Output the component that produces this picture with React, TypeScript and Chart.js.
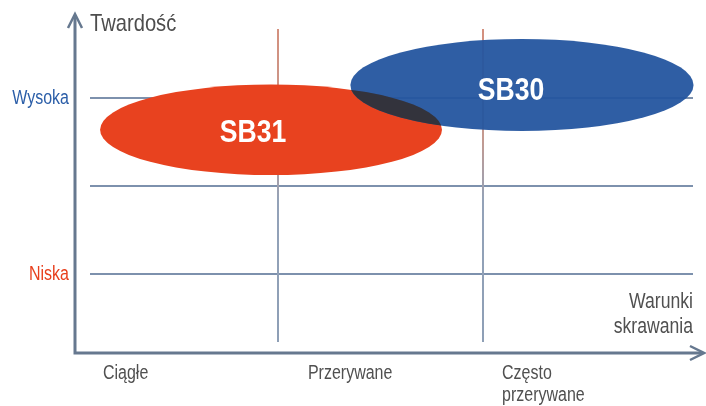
import React, { useEffect, useRef } from "react";
import { Chart, registerables } from "chart.js";

Chart.register(...registerables);

// ---- data ----
const products = ["SB31", "SB30"];
const centerX = [0.966, 2.19]; // cutting-condition units
const centerY = [2.64, 3.15]; // hardness units
const radiusX = [0.834, 0.837];
const radiusY = [0.515, 0.523];
const labelX = [0.878, 2.137];
const labelY = [2.5, 2.979];
const fillColors = ["#e8421f", "#24559f"];
const fillAlpha = [1, 0.95];
const overlapColor = "rgba(52,48,50,0.9)";

const xCategories = ["Ciągłe", "Przerywane", ["Często", "przerywane"]];
const xCategoryPos = [0.146, 1.146, 2.093];
const xDividers = [1, 2];

const yLevels = [3, 1];
const yLevelLabels = ["Wysoka", "Niska"];
const yLevelColors = ["#2b5ea8", "#e8401e"];
const yGridLines = [1, 2, 3];

const yAxisTitle = "Twardość";
const xAxisTitle = ["Warunki", "skrawania"];

const FONT = '"Liberation Sans", Arial, sans-serif';

function drawText(
  ctx: CanvasRenderingContext2D,
  text: string,
  x: number,
  y: number,
  size: number,
  color: string,
  align: CanvasTextAlign,
  bold = false,
  sx = 0.8
) {
  ctx.save();
  ctx.font = `${bold ? "bold " : ""}${size}px ${FONT}`;
  ctx.fillStyle = color;
  ctx.textBaseline = "alphabetic";
  ctx.textAlign = align;
  ctx.translate(x, y);
  ctx.scale(sx, 1);
  ctx.fillText(text, 0, 0);
  ctx.restore();
}

const diagramPlugin = {
  id: "diagram",
  beforeDatasetsDraw(chart: any) {
    const ctx: CanvasRenderingContext2D = chart.ctx;
    const xs = chart.scales.x;
    const ys = chart.scales.y;
    const area = chart.chartArea;
    const axisX = xs.getPixelForValue(0) + 2;
    const axisY = ys.getPixelForValue(ys.min);
    const rightEnd = xs.getPixelForValue(3) + 5;

    ctx.save();
    // horizontal grid lines
    ctx.lineWidth = 2;
    ctx.strokeStyle = "#7d91ad";
    yGridLines.forEach((v) => {
      const py = Math.round(ys.getPixelForValue(v));
      ctx.beginPath();
      ctx.moveTo(axisX + 15, py);
      ctx.lineTo(rightEnd, py);
      ctx.stroke();
    });
    // vertical dividers
    xDividers.forEach((v) => {
      const px = Math.round(xs.getPixelForValue(v));
      const top = area.top + 10;
      const bottom = axisY - 11;
      const g = ctx.createLinearGradient(0, top, 0, bottom);
      g.addColorStop(0, "#d4907e");
      g.addColorStop(0.35, "#c49a90");
      g.addColorStop(0.55, "#93a2b8");
      g.addColorStop(1, "#8e9fb6");
      ctx.strokeStyle = g;
      ctx.beginPath();
      ctx.moveTo(px, top);
      ctx.lineTo(px, bottom);
      ctx.stroke();
    });

    // ellipses
    const geo = products.map((p, i) => {
      const cx = xs.getPixelForValue(centerX[i]);
      const cy = ys.getPixelForValue(centerY[i]);
      const rx = Math.abs(xs.getPixelForValue(centerX[i] + radiusX[i]) - cx);
      const ry = Math.abs(ys.getPixelForValue(centerY[i] + radiusY[i]) - cy);
      return { cx, cy, rx, ry };
    });
    products.forEach((p, i) => {
      const { cx, cy, rx, ry } = geo[i];
      ctx.save();
      ctx.globalAlpha = fillAlpha[i];
      ctx.fillStyle = fillColors[i];
      ctx.beginPath();
      ctx.ellipse(cx, cy, rx, ry, 0, 0, Math.PI * 2);
      ctx.fill();
      ctx.restore();
    });
    // overlap region
    ctx.save();
    ctx.beginPath();
    ctx.ellipse(geo[0].cx, geo[0].cy, geo[0].rx, geo[0].ry, 0, 0, Math.PI * 2);
    ctx.clip();
    ctx.fillStyle = overlapColor;
    ctx.beginPath();
    ctx.ellipse(geo[1].cx, geo[1].cy, geo[1].rx, geo[1].ry, 0, 0, Math.PI * 2);
    ctx.fill();
    ctx.restore();

    products.forEach((p, i) => {
      drawText(
        ctx,
        p,
        xs.getPixelForValue(labelX[i]),
        ys.getPixelForValue(labelY[i]),
        32,
        "#ffffff",
        "center",
        true,
        0.83
      );
    });

    // axes
    ctx.strokeStyle = "#66788f";
    ctx.lineWidth = 3;
    ctx.lineCap = "butt";
    ctx.beginPath();
    ctx.moveTo(axisX, 15);
    ctx.lineTo(axisX, axisY);
    ctx.lineTo(703, axisY);
    ctx.stroke();
    ctx.lineWidth = 2.5;
    ctx.lineJoin = "miter";
    ctx.beginPath();
    ctx.moveTo(axisX - 7, 28);
    ctx.lineTo(axisX, 14);
    ctx.lineTo(axisX + 7, 28);
    ctx.stroke();
    ctx.beginPath();
    ctx.moveTo(690, axisY - 7);
    ctx.lineTo(704, axisY);
    ctx.lineTo(690, axisY + 7);
    ctx.stroke();

    // y level labels
    yLevels.forEach((v, i) => {
      drawText(ctx, yLevelLabels[i], axisX - 6, ys.getPixelForValue(v) + 6, 20, yLevelColors[i], "right");
    });
    // x categories
    xCategories.forEach((c, i) => {
      const lines = Array.isArray(c) ? c : [c];
      lines.forEach((l, j) => {
        drawText(ctx, l, xs.getPixelForValue(xCategoryPos[i]), axisY + 26 + j * 22, 20, "#505050", "left");
      });
    });
    // titles
    drawText(ctx, yAxisTitle, axisX + 15, 31, 24, "#4d4d4d", "left", false, 0.84);
    xAxisTitle.forEach((l, j) => {
      drawText(ctx, l, rightEnd, 308 + j * 25, 22, "#505050", "right");
    });
    ctx.restore();
  },
};

export default function App() {
  const ref = useRef<HTMLCanvasElement>(null);
  useEffect(() => {
    if (!ref.current) return;
    const chart = new Chart(ref.current, {
      type: "scatter",
      data: {
        datasets: products.map((p, i) => ({
          label: p,
          data: [{ x: centerX[i], y: centerY[i] }],
          pointRadius: 0,
          backgroundColor: fillColors[i],
        })),
      },
      options: {
        animation: false,
        responsive: false,
        devicePixelRatio: 1,
        layout: { padding: { left: 73, right: 18, top: 19, bottom: 53 } },
        plugins: { legend: { display: false }, tooltip: { enabled: false } },
        scales: {
          x: { type: "linear", min: 0, max: 3, display: false },
          y: { type: "linear", min: 0.1, max: 3.9, display: false },
        },
      },
      plugins: [diagramPlugin],
    });
    return () => chart.destroy();
  }, []);
  return (
    <div style={{ position: "absolute", left: 0, top: 0, width: 706, height: 406, background: "#fff" }}>
      <canvas ref={ref} width={706} height={406} />
    </div>
  );
}
